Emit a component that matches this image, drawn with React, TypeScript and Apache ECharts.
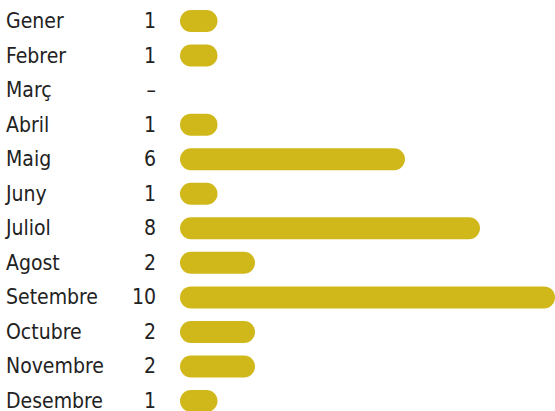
import React, { useEffect, useRef } from "react";
import * as echarts from "echarts";

const months = ["Gener", "Febrer", "Març", "Abril", "Maig", "Juny", "Juliol", "Agost", "Setembre", "Octubre", "Novembre", "Desembre"];
const values: (number | null)[] = [1, 1, null, 1, 6, 1, 8, 2, 10, 2, 2, 1];
const valueLabels = values.map((v) => (v === null ? "–" : String(v)));

const FONT = "'DejaVu Sans Condensed', sans-serif";

export default function App() {
  const ref = useRef<HTMLDivElement>(null);
  useEffect(() => {
    if (!ref.current) return;
    const chart = echarts.init(ref.current, null, { renderer: "svg" });
    chart.setOption({
      animation: false,
      backgroundColor: "#ffffff",
      grid: { left: 180, right: 0, top: 3.7, bottom: -7.3, containLabel: false, outerBoundsMode: "none" },
      xAxis: { type: "value", min: 0, max: 10, show: false },
      yAxis: [
        {
          type: "category",
          data: months,
          inverse: true,
          position: "left",
          axisLine: { show: false },
          axisTick: { show: false },
          axisLabel: { align: "left", margin: 174, fontFamily: FONT, fontSize: 21, color: "#222222" },
        },
        {
          type: "category",
          data: valueLabels,
          inverse: true,
          position: "left",
          axisLine: { show: false },
          axisTick: { show: false },
          axisLabel: { align: "right", margin: 24, fontFamily: FONT, fontSize: 21, color: "#222222" },
        },
      ],
      series: [
        {
          type: "bar",
          data: values,
          yAxisIndex: 0,
          barWidth: 22,
          itemStyle: { color: "#D0B81A", borderRadius: 11 },
        },
      ],
    });
    return () => chart.dispose();
  }, []);
  return <div ref={ref} style={{ position: "fixed", left: 0, top: 0, width: 555, height: 411 }} />;
}
